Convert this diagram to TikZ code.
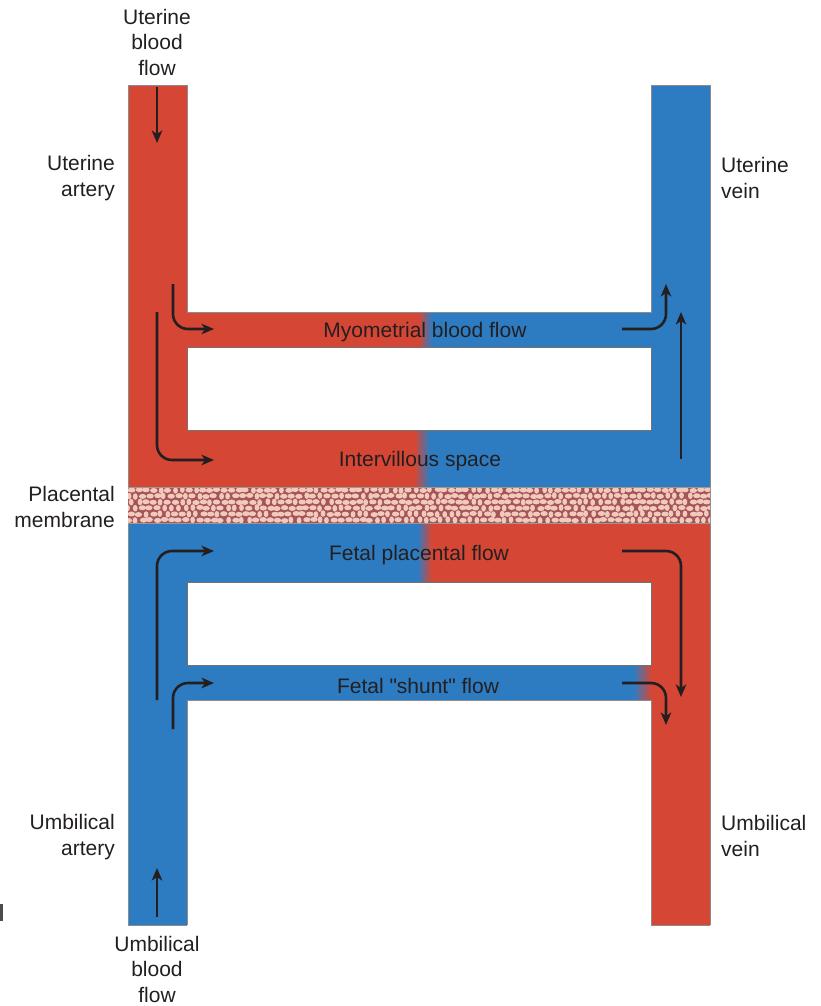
\documentclass[tikz,border=0pt]{standalone}
\usepackage{fontspec}
\setmainfont{Liberation Sans}[Ligatures=TeXOff]
\usetikzlibrary{arrows.meta}
\definecolor{bred}{RGB}{214,70,53}
\definecolor{bblue}{RGB}{45,124,194}
\definecolor{memdark}{RGB}{165,84,88}
\definecolor{mempink}{RGB}{242,202,188}
\definecolor{ink}{RGB}{35,31,32}
\tikzset{
  flow/.style={draw=ink, line width=2.6pt, rounded corners=15pt, -{Stealth[length=12.5pt,width=10.5pt,inset=3.5pt]}},
  lbl/.style={text=ink, font=\fontsize{21}{25.5}\selectfont, inner sep=0pt},
  rlbl/.style={lbl, align=right, anchor=east},
  llbl/.style={lbl, align=left, anchor=west},
  clbl/.style={lbl, align=center},
  hole/.style={fill=white, draw=black!55, line width=0.7pt},
}
\begin{document}
\begin{tikzpicture}[x=1pt,y=-1pt]
\useasboundingbox (0,0) rectangle (820,1006);
% ---------- maternal (top) ----------
\fill[bred] (128,85) rectangle (187,487);
\fill[bred] (187,312) rectangle (419,347);
\fill[bred] (187,430) rectangle (415,487);
\fill[bblue] (651,85) rectangle (710,487);
\fill[bblue] (431,312) rectangle (651,347);
\fill[bblue] (429,430) rectangle (651,487);
\shade[left color=bred, right color=bblue] (418.5,312) rectangle (431.5,347);
\shade[left color=bred, right color=bblue] (414.5,430) rectangle (429.5,487);
% ---------- fetal (bottom) ----------
\fill[bblue] (128,523) rectangle (187,925);
\fill[bblue] (187,523) rectangle (418,582);
\fill[bblue] (187,665) rectangle (634,700);
\fill[bred] (651,523) rectangle (710,925);
\fill[bred] (431,523) rectangle (651,582);
\shade[left color=bblue, right color=bred] (417.5,523) rectangle (431.5,582);
\shade[left color=bblue, right color=bred] (633.5,665) rectangle (651.5,700);
% outlines
\draw[black!45, line width=0.6pt] (128,85) -- (128,925) (710,85) -- (710,925)
  (128,85) -- (187,85) (651,85) -- (710,85) (128,925) -- (187,925) (651,925) -- (710,925);
\draw[black!45, line width=0.6pt] (187,85) -- (187,312) -- (651,312) -- (651,85);
\draw[black!45, line width=0.6pt] (187,925) -- (187,700) -- (651,700) -- (651,925);
% white boxes
\draw[hole] (187,347) rectangle (651,430);
\draw[hole] (187,582) rectangle (651,665);
% ---------- placental membrane ----------
\begin{scope}
\clip (128,487) rectangle (710,523);
\fill[memdark] (128,487) rectangle (710,523);
\pgfmathsetseed{11}
\foreach \j in {0,...,5} {
  \foreach \i in {0,...,83} {
    \pgfmathsetmacro{\xx}{125+7.1*\i+3.5*mod(\j,2)+1.0*rand}
    \pgfmathsetmacro{\yy}{490+6.0*\j+0.6*rand}
    \pgfmathsetmacro{\ra}{rnd<0.6 ? 3.7 : 2.4}
    \pgfmathsetmacro{\rb}{\ra>3 ? 2.5 : 3.3}
    \fill[mempink] (\xx,\yy) ellipse [x radius=\ra pt, y radius=\rb pt];
  }
}
\end{scope}
\draw[black!40, line width=0.5pt] (128,487) -- (710,487) (128,523) -- (710,523);
% ---------- labels ----------
\node[clbl] (ubf) at (157,42) {Uterine\\blood\\flow};
\node[rlbl] (uart) at (115,178) {Uterine\\artery};
\node[llbl] (uvein) at (721,178) {Uterine\\vein};
\node[rlbl] (pmem) at (115,507) {Placental\\membrane};
\node[rlbl] (umbart) at (115,837) {Umbilical\\artery};
\node[llbl] (umbvein) at (721,836) {Umbilical\\vein};
\node[clbl] (umbbf) at (157,969) {Umbilical\\blood\\flow};
\node[clbl] (myo) at (425,332) {Myometrial blood flow};
\node[clbl] (ivs) at (420,461) {Intervillous space};
\node[clbl] (fpf) at (419,555) {Fetal placental flow};
\node[clbl] (fsf) at (418,686) {Fetal "shunt" flow};
% small edge mark
\fill[black!70] (0.3,904) rectangle (2.6,921);
% ---------- flow arrows ----------
\coordinate (a1s) at (157,87);  \coordinate (a1e) at (157,143);
\coordinate (a2s) at (173,284); \coordinate (a2e) at (214,329);
\coordinate (a3s) at (157,312); \coordinate (a3e) at (214,460);
\coordinate (a4s) at (622,329); \coordinate (a4e) at (666,284);
\coordinate (a5s) at (681,459); \coordinate (a5e) at (681,312);
\coordinate (a6s) at (157,700); \coordinate (a6e) at (214,551);
\coordinate (a7s) at (173,729); \coordinate (a7e) at (214,683);
\coordinate (a8s) at (622,551); \coordinate (a8e) at (681,697);
\coordinate (a9s) at (622,683); \coordinate (a9e) at (666,725);
\coordinate (a10s) at (157,917); \coordinate (a10e) at (157,868);
\draw[flow] (a1s) -- (a1e);
\draw[flow] (a2s) |- (a2e);
\draw[flow] (a3s) |- (a3e);
\draw[flow] (a4s) -| (a4e);
\draw[flow] (a5s) -- (a5e);
\draw[flow] (a6s) |- (a6e);
\draw[flow] (a7s) |- (a7e);
\draw[flow] (a8s) -| (a8e);
\draw[flow] (a9s) -| (a9e);
\draw[flow] (a10s) -- (a10e);
\end{tikzpicture}
\end{document}
